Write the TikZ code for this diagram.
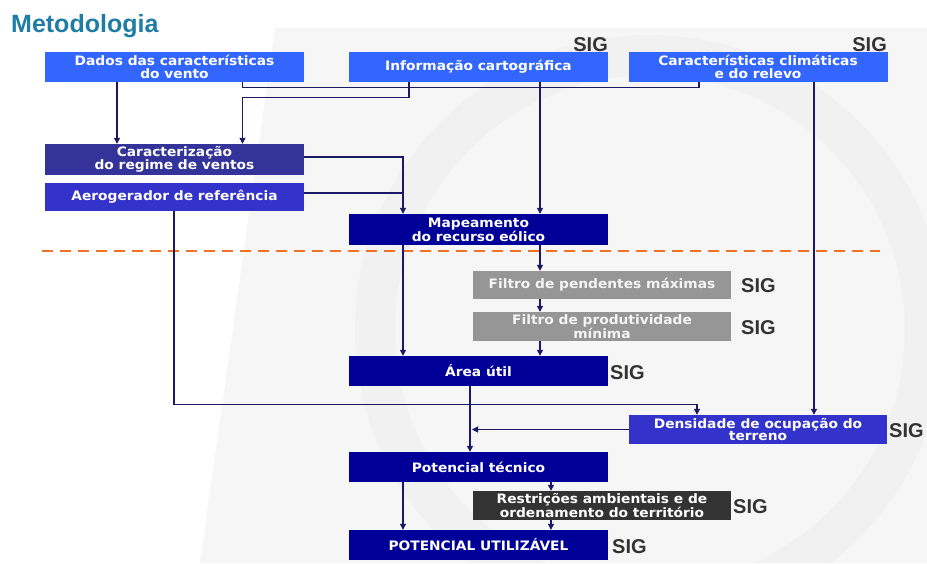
\documentclass[tikz,border=0pt]{standalone}
\usepackage{fontspec}
\setmainfont{DejaVu Sans}
\newfontfamily\boxfont[FakeStretch=1.06]{DejaVu Sans}
\newfontfamily\arialfont{Liberation Sans}
\usetikzlibrary{arrows.meta}

\definecolor{lightblue}{RGB}{51,102,255}
\definecolor{slateblue}{RGB}{51,51,153}
\definecolor{midblue}{RGB}{51,51,204}
\definecolor{navyblue}{RGB}{0,0,153}
\definecolor{filtergray}{RGB}{150,150,150}
\definecolor{darkbox}{RGB}{51,51,51}
\definecolor{linecol}{RGB}{25,25,100}
\definecolor{sigcol}{RGB}{51,51,51}
\definecolor{titlecol}{RGB}{31,125,165}
\definecolor{dashcol}{RGB}{240,115,35}

\begin{document}
\begin{tikzpicture}[x=1pt,y=-1pt,
    box/.style={text=white, align=center, inner sep=0pt,
        minimum width=259pt, minimum height=30pt,
        font=\boxfont\bfseries\fontsize{13}{12.5}\selectfont},
    sig/.style={text=sigcol, inner sep=0pt, anchor=base west,
        font=\arialfont\bfseries\fontsize{20}{20}\selectfont},
    link/.style={draw=linecol, line width=1.1pt},
    arr/.style={link, -{Triangle[width=6pt,length=6pt]}}]
    \useasboundingbox (0,0) rectangle (927,563);

    % background and watermark
    \fill[gray!7] (275,28) -- (927,28) -- (927,563) -- (200,563) -- cycle;
    \begin{scope}
        \clip (275,28) -- (927,28) -- (927,563) -- (200,563) -- cycle;
        \draw[gray!11, line width=40pt] (650,330) circle (275);
    \end{scope}

    \node[anchor=base west, inner sep=0pt, text=titlecol,
        font=\arialfont\bfseries\fontsize{25}{25}\selectfont] (title) at (11,32) {Metodologia};

    % top row
    \node[box, fill=lightblue] (dados) at (174.5,67) {Dados das características\\do vento};
    \node[box, fill=lightblue] (info) at (478.5,67) {Informação cartográfica};
    \node[box, fill=lightblue] (clima) at (758,67) {Características climáticas\\e do relevo};
    \node[sig, anchor=base east] (sigA) at (608,51) {SIG};
    \node[sig, anchor=base east] (sigB) at (887,51) {SIG};

    \node[box, fill=slateblue, minimum height=31pt] (regime) at (174.5,159.5) {Caracterização\\do regime de ventos};
    \node[box, fill=midblue, minimum height=28pt] (aero) at (174.5,197) {Aerogerador de referência};
    \node[box, fill=navyblue, minimum height=31pt] (mapa) at (478.5,229.5) {Mapeamento\\do recurso eólico};
    \coordinate (join) at ([xshift=-75.5pt]mapa.north);
    \coordinate (regimeOut) at ([yshift=2.5pt]regime.east);
    \coordinate (aeroOut) at ([yshift=4pt]aero.east);

    \draw[dashcol, line width=2.5pt, dash pattern=on 11pt off 7pt] (42,251) -- (880,251);

    % filters
    \node[box, fill=filtergray, text=gray!8, minimum width=258pt, minimum height=28pt] (pend) at (602,285) {Filtro de pendentes máximas};
    \node[box, fill=filtergray, text=gray!8, minimum width=258pt, minimum height=29pt] (prod) at (602,326.5) {Filtro de produtividade\\mínima};
    \node[sig] (sigC) at (741,292) {SIG};
    \node[sig] (sigD) at (741,334) {SIG};

    \node[box, fill=navyblue] (area) at (478.5,371) {Área útil};
    \node[sig] (sigE) at (610,379) {SIG};
    \node[box, fill=midblue, minimum width=258pt, minimum height=29pt] (dens) at (758,429.5) {Densidade de ocupação do\\terreno};
    \node[sig] (sigF) at (889,437) {SIG};

    \node[box, fill=navyblue] (tec) at (478.5,467) {Potencial técnico};
    \node[box, fill=darkbox, minimum width=258pt, minimum height=29pt] (restr) at (602,505.5) {Restrições ambientais e de\\ordenamento do território};
    \node[sig] (sigG) at (733,513) {SIG};
    \node[box, fill=navyblue] (util) at (478.5,545) {POTENCIAL UTILIZÁVEL};
    \node[sig] (sigH) at (612,553) {SIG};

    % connectors
    \draw[arr] ([xshift=-57.5pt]dados.south) -- ([xshift=-57.5pt]regime.north);
    \draw[link] ([xshift=68pt]dados.south) -- ++(0,5) -| ([xshift=-59pt]clima.south);
    \draw[arr] ([xshift=-69.5pt]info.south) -- ++(0,15) -| ([xshift=68pt]regime.north);
    \draw[arr] ([xshift=61.5pt]info.south) -- ([xshift=61.5pt]mapa.north);
    \draw[arr] (regimeOut) -| (join);
    \draw[link] (aeroOut) -- (aeroOut -| join);
    \draw[arr] ([xshift=-0.5pt]aero.south) -- ++(0,193) -| ([xshift=-61pt]dens.north);
    \draw[arr] ([xshift=56pt]clima.south) -- ([xshift=56pt]dens.north);
    \draw[arr] ([xshift=61.5pt]mapa.south) -- ([xshift=-62pt]pend.north);
    \draw[arr] ([xshift=-75.5pt]mapa.south) -- ([xshift=-75.5pt]area.north);
    \draw[arr] ([xshift=-62pt]pend.south) -- ([xshift=-62pt]prod.north);
    \draw[arr] ([xshift=-62pt]prod.south) -- ([xshift=61.5pt]area.north);
    \draw[arr] ([xshift=-8.5pt]area.south) -- ([xshift=-8.5pt]tec.north);
    \draw[arr, shorten >=2pt] (dens.west) -- ([xshift=-8.5pt]area.south |- dens.west);
    \draw[arr] ([xshift=-75.5pt]tec.south) -- ([xshift=-75.5pt]util.north);
    \draw[arr] ([xshift=72.5pt]tec.south) -- ([xshift=-51pt]restr.north);
    \draw[arr] ([xshift=-51pt]restr.south) -- ([xshift=72.5pt]util.north);
\end{tikzpicture}
\end{document}
